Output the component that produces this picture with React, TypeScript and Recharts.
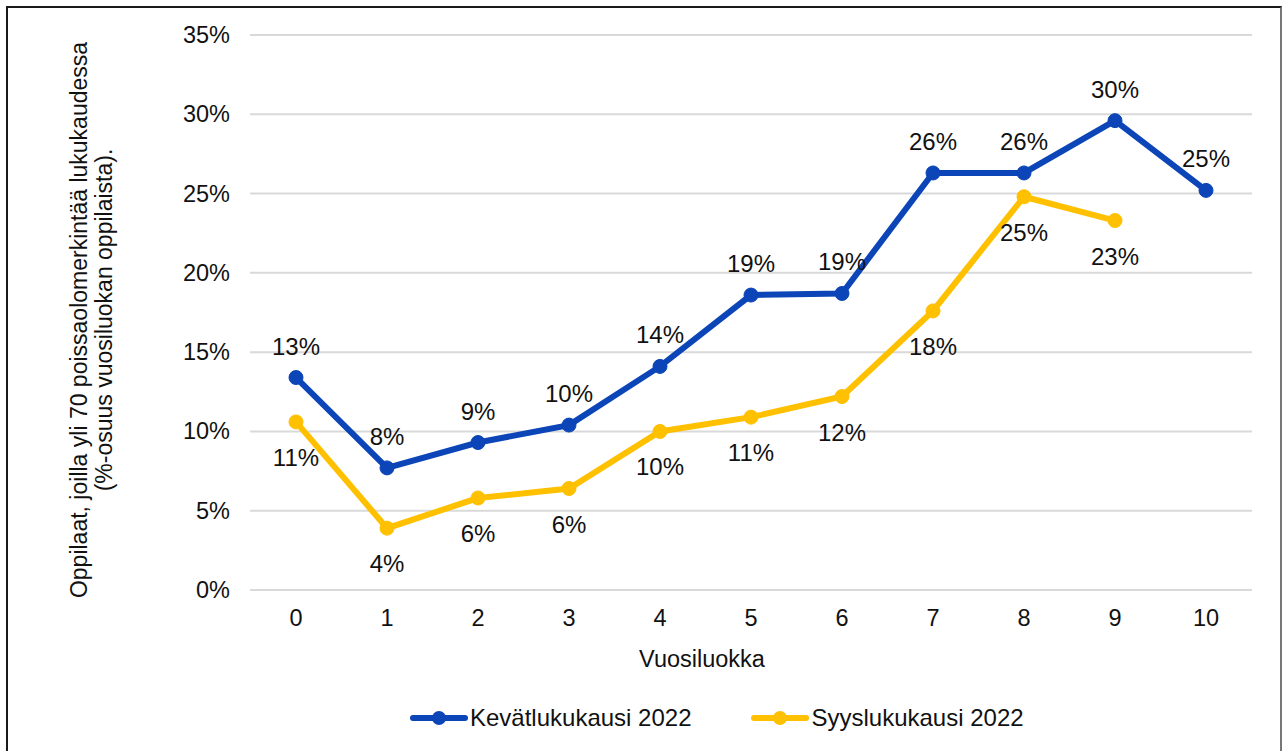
import { LineChart, Line, XAxis, YAxis, CartesianGrid, LabelList } from "recharts";

const grades = ["0", "1", "2", "3", "4", "5", "6", "7", "8", "9", "10"];
const spring2022 = [13.4, 7.7, 9.3, 10.4, 14.1, 18.6, 18.7, 26.3, 26.3, 29.6, 25.2];
const autumn2022 = [10.6, 3.9, 5.8, 6.4, 10.0, 10.9, 12.2, 17.6, 24.8, 23.3, null];
const yTicks = [0, 5, 10, 15, 20, 25, 30, 35];

const BLUE = "#0B45B7";
const YELLOW = "#FFC000";
const TEXT = "#111";
const FONT = "'Liberation Sans', Arial, sans-serif";

const data = grades.map((g, i) => ({
  grade: g,
  spring: spring2022[i],
  autumn: autumn2022[i],
}));

// value labels: blue above the points, yellow below
const labelAbove = (p: any) => {
  if (p.value == null) return null;
  return (
    <text x={p.x} y={p.y - 23} textAnchor="middle" fontSize={24} fill={TEXT} fontFamily={FONT}>
      {Math.round(p.value)}%
    </text>
  );
};

const labelBelow = (p: any) => {
  if (p.value == null) return null;
  return (
    <text x={p.x} y={p.y + 44} textAnchor="middle" fontSize={24} fill={TEXT} fontFamily={FONT}>
      {Math.round(p.value)}%
    </text>
  );
};

const YTick = (p: any) => (
  <text x={p.x - 12} y={p.y + 8} textAnchor="end" fontSize={23.5} fill={TEXT} fontFamily={FONT}>
    {p.payload.value}%
  </text>
);

const XTick = (p: any) => (
  <text x={p.x} y={p.y + 28} textAnchor="middle" fontSize={23.5} fill={TEXT} fontFamily={FONT}>
    {p.payload.value}
  </text>
);

// axis title sits a bit left of the plot centre in the original
const XTitle = (p: any) => {
  const vb = p.viewBox;
  return (
    <text x={vb.x + vb.width / 2 - 49} y={vb.y + 77} textAnchor="middle" fontSize={23.5} fill={TEXT} fontFamily={FONT}>
      Vuosiluokka
    </text>
  );
};

const legendItems = [
  { name: "Kevätlukukausi 2022", color: BLUE },
  { name: "Syyslukukausi 2022", color: YELLOW },
];

function ChartLegend() {
  return (
    <div
      style={{
        position: "absolute",
        left: 410,
        top: 703,
        display: "flex",
        gap: 60,
        fontFamily: FONT,
        fontSize: 24,
        lineHeight: "30px",
        color: TEXT,
      }}
    >
      {legendItems.map((it) => (
        <div key={it.name} style={{ display: "flex", alignItems: "center" }}>
          <svg width={58} height={16} style={{ marginRight: 2 }}>
            <line x1={3} y1={8} x2={55} y2={8} stroke={it.color} strokeWidth={6} strokeLinecap="round" />
            <circle cx={29} cy={8} r={7} fill={it.color} />
          </svg>
          <span>{it.name}</span>
        </div>
      ))}
    </div>
  );
}

export default function App() {
  return (
    <div style={{ position: "absolute", left: 0, top: 0, width: 1283, height: 751, background: "#fff", overflow: "hidden" }}>
      <div
        style={{
          position: "absolute",
          left: 6,
          top: 6,
          width: 1276,
          height: 760,
          borderLeft: "2px solid #1a1a1a",
          borderTop: "2px solid #1a1a1a",
          borderRight: "2px solid #777",
          boxSizing: "border-box",
        }}
      />
      <div
        style={{
          position: "absolute",
          left: 92,
          top: 320,
          transform: "translate(-50%, -50%) rotate(-90deg)",
          whiteSpace: "nowrap",
          textAlign: "center",
          fontFamily: FONT,
          fontSize: 23,
          lineHeight: "25px",
          color: TEXT,
        }}
      >
        Oppilaat, joilla yli 70 poissaolomerkintää lukukaudessa
        <br />
        (%-osuus vuosiluokan oppilaista).
      </div>
      <LineChart
        width={1283}
        height={751}
        data={data}
        margin={{ top: 35, right: 31, left: 0, bottom: 101 }}
        style={{ position: "absolute", left: 0, top: 0 }}
      >
        <CartesianGrid vertical={false} stroke="#d9d9d9" strokeWidth={2} />
        <XAxis
          dataKey="grade"
          axisLine={false}
          tickLine={false}
          padding={{ left: 46, right: 46 }}
          tick={<XTick />}
          height={60}
          label={<XTitle />}
        />
        <YAxis
          type="number"
          domain={[0, 35]}
          ticks={yTicks}
          axisLine={false}
          tickLine={false}
          width={250}
          tick={<YTick />}
        />
        <Line
          dataKey="spring"
          name="Kevätlukukausi 2022"
          stroke={BLUE}
          strokeWidth={6}
          dot={{ r: 7, fill: BLUE, stroke: BLUE, strokeWidth: 1 }}
          isAnimationActive={false}
        >
          <LabelList dataKey="spring" content={labelAbove} />
        </Line>
        <Line
          dataKey="autumn"
          name="Syyslukukausi 2022"
          stroke={YELLOW}
          strokeWidth={6}
          dot={{ r: 7, fill: YELLOW, stroke: YELLOW, strokeWidth: 1 }}
          isAnimationActive={false}
        >
          <LabelList dataKey="autumn" content={labelBelow} />
        </Line>
      </LineChart>
      <ChartLegend />
    </div>
  );
}
